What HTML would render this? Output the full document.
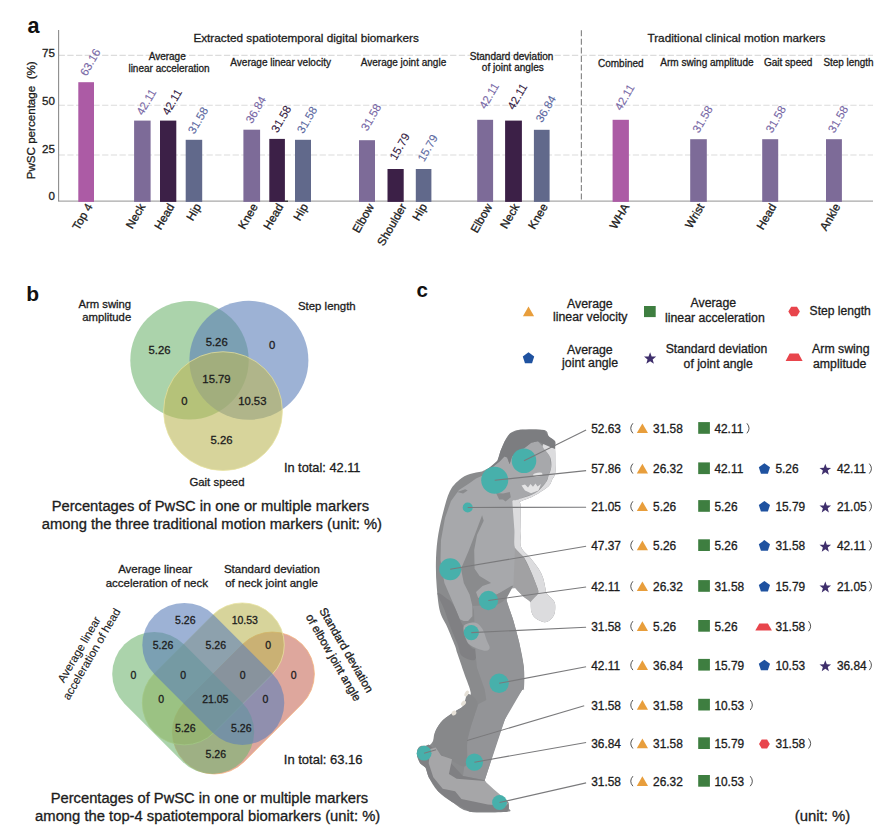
<!DOCTYPE html>
<html><head><meta charset="utf-8"><style>
html,body{margin:0;padding:0;background:#fff;width:895px;height:835px;overflow:hidden}
svg{display:block}
text{font-family:"Liberation Sans",sans-serif}
</style></head><body>
<svg width="895" height="835" viewBox="0 0 895 835">
<rect width="895" height="835" fill="#fff"/>
<path d="M520.0,429.8 C525.7,429.2 539.3,428.9 544.1,430.0 C548.9,431.1 547.1,434.6 548.9,436.5 C550.7,438.4 554.1,439.2 555.1,441.3 C556.1,443.4 555.1,443.8 555.1,448.9 C555.1,454.0 555.9,466.6 555.4,471.8 C554.9,477.0 553.2,477.5 552.0,480.0 C550.8,482.5 551.1,484.0 548.0,486.7 C544.9,489.4 537.8,493.8 533.1,496.3 C528.4,498.8 522.1,500.4 520.0,501.8 C517.9,503.2 520.3,500.3 520.5,505.0 C520.7,509.7 520.9,523.0 521.0,530.0 C521.1,537.0 519.5,542.2 521.0,546.8 C522.5,551.4 527.1,553.9 530.0,557.5 C532.9,561.1 536.1,564.9 538.3,568.3 C540.5,571.7 541.9,574.5 543.1,577.9 C544.3,581.3 544.9,586.1 545.5,588.7 C546.1,591.3 545.5,591.7 546.7,593.5 C547.9,595.3 551.3,597.7 552.7,599.5 C554.1,601.3 554.8,601.9 555.1,604.3 C555.4,606.7 555.3,611.2 554.5,613.8 C553.7,616.4 552.0,618.4 550.3,619.8 C548.6,621.2 546.7,622.4 544.3,622.2 C541.9,622.0 538.0,620.2 535.9,618.6 C533.8,617.0 532.6,615.4 531.7,612.6 C530.8,609.8 531.8,604.5 530.5,601.9 C529.2,599.3 526.1,598.9 524.0,597.1 C521.9,595.3 519.8,593.0 518.0,591.1 C516.2,589.2 515.1,585.7 513.4,585.5 C511.7,585.3 509.1,587.5 508.0,590.0 C506.9,592.5 505.8,595.4 506.6,600.3 C507.4,605.1 510.8,612.0 512.9,619.1 C515.0,626.2 517.4,634.5 519.2,642.6 C521.0,650.7 523.1,659.8 523.9,667.6 C524.7,675.4 524.2,685.8 523.9,689.5 C523.6,693.2 525.3,685.0 522.1,690.0 C518.9,695.0 511.1,704.6 504.9,719.6 C498.7,734.6 488.3,769.7 484.7,780.3 C481.1,790.9 482.2,781.6 483.2,783.4 C484.2,785.2 487.8,788.9 490.9,791.2 C494.0,793.5 498.9,795.6 501.8,797.4 C504.7,799.2 506.9,800.3 508.1,802.1 C509.3,803.9 508.9,806.7 508.8,808.3 C508.7,809.9 513.8,811.1 507.3,811.7 C500.8,812.3 479.1,813.3 469.9,811.7 C460.7,810.1 457.3,805.5 452.0,802.1 C446.7,798.7 441.9,795.4 438.0,791.2 C434.1,787.1 430.8,781.1 428.7,777.2 C426.6,773.3 427.0,770.1 425.6,767.8 C424.2,765.5 421.5,765.3 420.1,763.2 C418.7,761.1 417.4,757.8 417.0,755.4 C416.6,753.0 417.2,750.7 417.8,749.1 C418.4,747.5 419.0,746.6 420.9,746.0 C422.8,745.4 426.9,746.5 429.0,745.5 C431.1,744.5 432.3,742.6 433.5,740.0 C434.7,737.4 434.4,733.3 436.0,730.0 C437.6,726.7 439.8,723.1 443.0,720.0 C446.2,716.9 451.7,713.8 455.0,711.5 C458.3,709.2 460.9,708.4 463.0,706.5 C465.1,704.6 466.2,702.3 467.5,700.0 C468.8,697.7 471.2,697.0 470.7,692.6 C470.2,688.2 466.6,680.4 464.4,673.9 C462.2,667.4 459.0,658.2 457.4,653.5 C455.8,648.8 456.7,650.1 455.0,645.7 C453.3,641.3 449.7,632.6 447.2,626.9 C444.7,621.2 441.7,618.1 440.0,611.6 C438.3,605.1 437.5,595.7 436.8,587.7 C436.1,579.7 435.8,571.7 435.9,563.7 C436.0,555.7 436.4,547.8 437.5,539.8 C438.6,531.8 440.3,523.8 442.3,515.8 C444.3,507.8 446.7,497.9 449.5,491.9 C452.3,485.9 455.7,482.9 459.1,479.9 C462.5,476.9 466.2,475.4 470.0,474.0 C473.8,472.6 478.7,472.5 481.9,471.5 C485.1,470.5 486.4,469.7 489.0,467.9 C491.6,466.1 495.5,463.5 497.4,460.7 C499.3,457.9 499.3,454.3 500.5,451.1 C501.7,447.9 503.0,444.5 504.6,441.6 C506.2,438.7 507.4,435.6 510.0,433.6 C512.6,431.6 514.3,430.4 520.0,429.8Z" fill="#8a8b8d"/>
<polygon points="494.8,465.2 499.6,461.4 504.4,456.6 507.2,457.6 509.6,464.3 512.0,456.6 516.8,452.8 524.5,448.0 531.2,442.7 537.9,441.3 542.7,446.4 550.1,457.0 551.2,467.6 548.5,476.0 545.9,482.5 535.2,493.1 518.3,499.4 515.0,500.5 515.0,505.0 517.0,550.3 516.0,588.0 508.0,589.0 496.9,594.6 478.2,598.0 472.4,606.1 472.4,616.2 468.1,621.0 463.6,621.0 459.5,619.1 453.8,604.7 444.4,583.1 440.5,560.0 441.0,540.0 445.0,518.0 451.0,501.0 459.0,490.0 469.0,483.5 476.0,478.5 485.0,474.5 490.0,470.5" fill="#a7a8ab"/>
<path d="M547.0,443.0 C549.1,443.4 553.7,444.1 555.1,448.9 C556.5,453.7 555.9,466.6 555.4,471.8 C554.9,477.0 553.2,477.5 552.0,480.0 C550.8,482.5 551.1,484.0 548.0,486.7 C544.9,489.4 537.8,493.8 533.1,496.3 C528.4,498.8 522.1,500.4 520.0,501.8 C517.9,503.2 520.3,500.3 520.5,505.0 C520.7,509.7 520.9,523.0 521.0,530.0 C521.1,537.0 519.5,542.2 521.0,546.8 C522.5,551.4 527.1,553.9 530.0,557.5 C532.9,561.1 536.1,564.9 538.3,568.3 C540.5,571.7 541.9,574.5 543.1,577.9 C544.3,581.3 544.9,586.1 545.5,588.7 C546.1,591.3 545.5,591.7 546.7,593.5 C547.9,595.3 551.3,597.7 552.7,599.5 C554.1,601.3 554.8,601.9 555.1,604.3 C555.4,606.7 555.3,611.2 554.5,613.8 C553.7,616.4 552.0,618.4 550.3,619.8 C548.6,621.2 546.7,622.4 544.3,622.2 C541.9,622.0 538.0,620.2 535.9,618.6 C533.8,617.0 532.6,615.4 531.7,612.6 C530.8,609.8 529.6,604.9 530.5,601.9 C531.4,598.9 535.8,596.5 537.1,594.7 C538.4,592.9 538.5,592.9 538.3,591.1 C538.1,589.3 537.1,587.1 535.9,583.9 C534.7,580.7 533.1,576.3 531.1,571.9 C529.1,567.5 526.7,561.5 524.0,557.5 C521.3,553.5 516.6,552.6 515.0,548.0 C513.4,543.4 514.8,537.2 514.4,530.0 C514.0,522.8 512.8,509.9 512.6,505.0 C512.4,500.1 512.0,501.4 513.0,500.5 C514.0,499.6 514.6,500.6 518.3,499.4 C522.0,498.2 530.6,495.9 535.2,493.1 C539.8,490.3 543.7,485.4 545.9,482.5 C548.1,479.6 547.6,478.5 548.5,476.0 C549.4,473.5 550.9,470.8 551.2,467.6 C551.5,464.4 551.5,460.5 550.1,457.0 C548.7,453.5 543.2,448.7 542.7,446.4 C542.2,444.1 544.9,442.6 547.0,443.0Z" fill="#dcdcde"/>
<polygon points="515.0,548.0 524.0,557.5 531.1,571.9 535.9,583.9 538.3,591.1 537.1,594.7 530.5,601.9 524.0,597.1 518.0,591.1 513.4,586.3" fill="#a1a1a3"/>
<polygon points="520.0,429.8 544.1,430.0 548.9,436.5 555.1,441.3 555.1,448.9 551.3,447.5 542.7,443.7 537.9,441.3 531.2,442.7 524.5,448.0 516.8,452.8 512.0,456.6 509.6,464.3 507.2,457.6 504.4,456.6 499.6,461.4 494.8,465.2 489.0,469.0 481.9,471.5 489.0,467.9 497.4,460.7 500.5,451.1 504.6,441.6 510.0,433.6" fill="#7c7d80"/>
<polygon points="496.0,493.1 503.0,493.5 509.8,492.0 510.8,497.3 505.5,501.6 503.0,499.5 499.2,499.4" fill="#8a8b8d"/>
<polygon points="457.1,492.0 465.2,489.2 467.7,490.5 463.1,493.5" fill="#8a8b8d"/>
<polygon points="482.1,515.2 483.7,520.7 477.0,535.0 474.2,550.0 474.6,568.8 479.6,576.0 491.1,583.1 482.5,586.0 476.0,592.0 478.2,598.0 496.9,594.6 511.3,586.0 513.4,585.5 507.0,597.5 502.6,601.8 496.9,604.7 472.4,606.1 469.6,594.6 463.8,583.1 461.0,568.8 468.8,550.4 476.6,530.0" fill="#8a8b8d"/>
<path d="M437.5,593.3 C437.8,591.3 443.4,596.2 446.0,598.0 C448.6,599.8 450.5,600.4 453.0,604.3 C455.5,608.2 459.0,617.4 460.8,621.4 C462.6,625.4 463.1,624.9 464.0,628.0 C464.9,631.1 464.7,636.7 466.0,640.0 C467.3,643.3 470.3,646.3 472.0,648.0 C473.7,649.7 475.6,648.0 476.0,650.0 C476.4,652.0 476.9,659.0 474.6,660.0 C472.3,661.0 464.9,658.7 462.0,656.0 C459.1,653.3 459.5,649.0 457.5,644.0 C455.5,639.0 452.2,631.7 450.0,626.0 C447.8,620.3 446.6,615.5 444.5,610.0 C442.4,604.5 437.2,595.3 437.5,593.3Z" fill="#808083"/>
<polygon points="472.4,606.1 496.9,604.7 502.6,601.8 507.0,597.5 506.6,600.3 512.9,619.1 519.2,642.6 523.9,667.6 523.9,689.5 522.1,690.0 504.9,719.6 484.7,780.3 462.9,776.0 465.3,760.0 467.6,739.8 472.3,721.1 478.5,704.0 486.3,700.0 484.7,689.5 476.9,667.6 475.3,650.0 474.6,626.3 473.9,610.0" fill="#939497"/>
<line x1="424.1" y1="753.2" x2="584.2" y2="705.8" stroke="#7a7a7c" stroke-width="1.1"/>
<path d="M468.0,694.0 C465.6,694.7 465.2,703.1 463.0,706.0 C460.8,708.9 458.3,709.2 455.0,711.5 C451.7,713.8 446.2,716.8 443.0,720.0 C439.8,723.2 437.1,727.7 435.5,731.0 C433.9,734.3 433.7,736.8 433.5,740.0 C433.3,743.2 433.1,747.3 434.4,750.1 C435.7,752.9 438.3,755.2 441.3,757.0 C444.3,758.8 448.2,759.7 452.3,761.1 C456.4,762.5 463.6,769.1 466.1,765.2 C468.6,761.3 466.1,746.0 467.5,737.7 C468.9,729.5 472.8,721.7 474.4,715.7 C476.0,709.7 478.2,705.5 477.1,701.9 C476.0,698.3 470.4,693.3 468.0,694.0Z" fill="#87888a"/>
<ellipse cx="466.6" cy="693.6" rx="1.8" ry="3.2" transform="rotate(30 466.6 693.6)" fill="#e6e1d8"/>
<ellipse cx="463.5" cy="703.3" rx="2" ry="3" transform="rotate(40 463.5 703.3)" fill="#e6e1d8"/>
<ellipse cx="454" cy="713" rx="2.2" ry="2.6" transform="rotate(50 454 713)" fill="#e6e1d8"/>
<path d="M463.8,626.3 C465.2,623.3 472.2,622.2 475.3,622.7 C478.4,623.2 480.6,626.1 482.5,629.1 C484.4,632.1 485.6,637.5 486.8,640.6 C488.0,643.7 489.9,646.1 489.7,647.8 C489.5,649.5 488.3,650.9 485.4,650.7 C482.5,650.5 475.5,648.1 472.4,646.4 C469.3,644.7 468.1,644.0 466.7,640.6 C465.3,637.2 462.4,629.3 463.8,626.3Z" fill="#a7a8ab"/>
<polygon points="484.7,780.3 490.9,791.2 501.8,797.4 508.1,802.1 508.8,808.3 507.3,811.7 469.9,811.7 452.0,802.1 438.0,791.2 428.7,777.2 425.6,767.8 420.1,763.2 417.0,755.4 417.8,749.1 428.7,744.5 448.0,760.0 462.9,776.0" fill="#808083"/>
<polygon points="430.2,749.1 435.7,747.6 441.1,755.4 452.0,759.3 448.9,774.0 456.7,778.7 484.7,781.1 494.0,789.6 503.4,797.4 508.1,803.6 505.7,806.0 487.8,804.4 461.4,799.0 455.1,791.2 442.7,788.8 433.3,777.2 428.7,763.2" fill="#a6a6a8"/>
<polygon points="521.5,485.5 525.0,490.5 531.0,493.2 538.5,490.5 541.0,484.0 537.5,486.5 535.5,483.5 533.0,486.8 530.5,484.0 528.0,487.5 525.0,484.5" fill="#e4e4e5"/>
<ellipse cx="537.8" cy="474.6" rx="4.8" ry="1.9" transform="rotate(-8 537.8 474.6)" fill="#e4e4e5"/>
<circle cx="524" cy="460.7" r="12.3" fill="#47b0ab"/>
<circle cx="494.7" cy="480.3" r="13.5" fill="#47b0ab"/>
<circle cx="467.7" cy="507.5" r="5" fill="#47b0ab"/>
<circle cx="450.2" cy="569.3" r="11" fill="#47b0ab"/>
<circle cx="488.4" cy="600.5" r="9.7" fill="#47b0ab"/>
<circle cx="471.3" cy="632.6" r="7.6" fill="#47b0ab"/>
<circle cx="499.1" cy="683.3" r="9.7" fill="#47b0ab"/>
<circle cx="424.1" cy="753.2" r="7.4" fill="#47b0ab"/>
<circle cx="474.4" cy="762.2" r="8.6" fill="#47b0ab"/>
<circle cx="499.5" cy="802.5" r="7.4" fill="#47b0ab"/>
<line x1="524" y1="460.8" x2="586.1" y2="429.9" stroke="#7a7a7c" stroke-width="1.1"/>
<line x1="494.7" y1="480.3" x2="586.1" y2="470.6" stroke="#7a7a7c" stroke-width="1.1"/>
<line x1="467.7" y1="507.5" x2="586.1" y2="507.2" stroke="#7a7a7c" stroke-width="1.1"/>
<line x1="450.2" y1="569.3" x2="586.1" y2="546.3" stroke="#7a7a7c" stroke-width="1.1"/>
<line x1="488.4" y1="600.5" x2="586.1" y2="587" stroke="#7a7a7c" stroke-width="1.1"/>
<line x1="471.3" y1="632.6" x2="586.1" y2="627.2" stroke="#7a7a7c" stroke-width="1.1"/>
<line x1="499.1" y1="683.3" x2="586.1" y2="666.8" stroke="#7a7a7c" stroke-width="1.1"/>
<line x1="474.4" y1="762.2" x2="586.1" y2="742.5" stroke="#7a7a7c" stroke-width="1.1"/>
<line x1="499.5" y1="802.5" x2="586.1" y2="782.9" stroke="#7a7a7c" stroke-width="1.1"/>
<line x1="424.1" y1="753.2" x2="436" y2="749.8" stroke="#7a7a7c" stroke-width="1.1"/>
<text x="27.6" y="33.2" font-size="21.5" font-weight="bold" fill="#111">a</text>
<line x1="58.6" y1="55.4" x2="873" y2="55.4" stroke="#dcdcdc" stroke-width="1.1" stroke-dasharray="6.3,2.4"/>
<line x1="58.6" y1="105.2" x2="873" y2="105.2" stroke="#dcdcdc" stroke-width="1.1" stroke-dasharray="6.3,2.4"/>
<line x1="58.6" y1="155.0" x2="873" y2="155.0" stroke="#dcdcdc" stroke-width="1.1" stroke-dasharray="6.3,2.4"/>
<line x1="581.4" y1="30.2" x2="581.4" y2="201.2" stroke="#8a8a8a" stroke-width="1.2" stroke-dasharray="6,2.6"/>
<text stroke="#1c1c1c" stroke-width="0.3" x="42.02" y="56.70" font-size="11.6" fill="#1c1c1c">75</text>
<text stroke="#1c1c1c" stroke-width="0.3" x="42.02" y="104.90" font-size="11.6" fill="#1c1c1c">50</text>
<text stroke="#1c1c1c" stroke-width="0.3" x="42.02" y="152.70" font-size="11.6" fill="#1c1c1c">25</text>
<text stroke="#1c1c1c" stroke-width="0.3" x="48.46" y="200.20" font-size="11.6" fill="#1c1c1c">0</text>
<text stroke="#1c1c1c" stroke-width="0.3" transform="translate(35.3,120.3) rotate(-90)" text-anchor="middle" font-size="11.7" fill="#1c1c1c" textLength="118" lengthAdjust="spacingAndGlyphs">PwSC percentage&#160; (%)</text>
<line x1="58.1" y1="201.2" x2="873" y2="201.2" stroke="#a8a8a8" stroke-width="1.3"/>
<rect x="78.3" y="82.2" width="15.70" height="119.70" fill="#ac5ba5"/>
<text stroke="#7868a6" stroke-width="0.12" transform="translate(86.45,76.70) rotate(-60)" x="0" y="0" font-size="11.5" text-anchor="start" fill="#7868a6">63.16</text>
<text stroke="#1c1c1c" stroke-width="0.3" transform="translate(82.15,216.66) rotate(-60)" x="0" y="4.18" font-size="11.6" text-anchor="middle" fill="#1c1c1c">Top 4</text>
<rect x="134.1" y="120.6" width="16.50" height="81.30" fill="#7d6b98"/>
<text stroke="#7868a6" stroke-width="0.12" transform="translate(142.65,116.10) rotate(-60)" x="0" y="0" font-size="11.5" text-anchor="start" fill="#7868a6">42.11</text>
<text stroke="#1c1c1c" stroke-width="0.3" transform="translate(135.35,215.85) rotate(-60)" x="0" y="4.18" font-size="11.6" text-anchor="middle" fill="#1c1c1c">Neck</text>
<rect x="160.0" y="120.6" width="16.30" height="81.30" fill="#3c2047"/>
<text stroke="#35203f" stroke-width="0.12" transform="translate(168.45,116.10) rotate(-60)" x="0" y="0" font-size="11.5" text-anchor="start" fill="#35203f">42.11</text>
<text stroke="#1c1c1c" stroke-width="0.3" transform="translate(164.15,216.38) rotate(-60)" x="0" y="4.18" font-size="11.6" text-anchor="middle" fill="#1c1c1c">Head</text>
<rect x="185.7" y="139.8" width="16.50" height="62.10" fill="#61698b"/>
<text stroke="#5d6aa2" stroke-width="0.12" transform="translate(194.25,134.80) rotate(-60)" x="0" y="0" font-size="11.5" text-anchor="start" fill="#5d6aa2">31.58</text>
<text stroke="#1c1c1c" stroke-width="0.3" transform="translate(193.45,211.91) rotate(-60)" x="0" y="4.18" font-size="11.6" text-anchor="middle" fill="#1c1c1c">Hip</text>
<rect x="243.4" y="129.7" width="16.70" height="72.20" fill="#7d6b98"/>
<text stroke="#7868a6" stroke-width="0.12" transform="translate(252.05,124.20) rotate(-60)" x="0" y="0" font-size="11.5" text-anchor="start" fill="#7868a6">36.84</text>
<text stroke="#1c1c1c" stroke-width="0.3" transform="translate(247.75,216.10) rotate(-60)" x="0" y="4.18" font-size="11.6" text-anchor="middle" fill="#1c1c1c">Knee</text>
<rect x="269.3" y="138.9" width="15.60" height="63.00" fill="#3c2047"/>
<text stroke="#35203f" stroke-width="0.12" transform="translate(277.40,133.40) rotate(-60)" x="0" y="0" font-size="11.5" text-anchor="start" fill="#35203f">31.58</text>
<text stroke="#1c1c1c" stroke-width="0.3" transform="translate(273.10,216.38) rotate(-60)" x="0" y="4.18" font-size="11.6" text-anchor="middle" fill="#1c1c1c">Head</text>
<rect x="295.0" y="139.8" width="16.00" height="62.10" fill="#61698b"/>
<text stroke="#5d6aa2" stroke-width="0.12" transform="translate(303.30,134.30) rotate(-60)" x="0" y="0" font-size="11.5" text-anchor="start" fill="#5d6aa2">31.58</text>
<text stroke="#1c1c1c" stroke-width="0.3" transform="translate(300.50,211.91) rotate(-60)" x="0" y="4.18" font-size="11.6" text-anchor="middle" fill="#1c1c1c">Hip</text>
<rect x="359.0" y="140.2" width="16.00" height="61.70" fill="#7d6b98"/>
<text stroke="#7868a6" stroke-width="0.12" transform="translate(367.30,131.70) rotate(-60)" x="0" y="0" font-size="11.5" text-anchor="start" fill="#7868a6">31.58</text>
<text stroke="#1c1c1c" stroke-width="0.3" transform="translate(363.00,218.06) rotate(-60)" x="0" y="4.18" font-size="11.6" text-anchor="middle" fill="#1c1c1c">Elbow</text>
<rect x="387.5" y="169.0" width="16.20" height="32.90" fill="#3c2047"/>
<text stroke="#35203f" stroke-width="0.12" transform="translate(395.90,161.00) rotate(-60)" x="0" y="0" font-size="11.5" text-anchor="start" fill="#35203f">15.79</text>
<text stroke="#1c1c1c" stroke-width="0.3" transform="translate(391.60,224.49) rotate(-60)" x="0" y="4.18" font-size="11.6" text-anchor="middle" fill="#1c1c1c">Shoulder</text>
<rect x="415.8" y="169.0" width="15.60" height="32.90" fill="#61698b"/>
<text stroke="#5d6aa2" stroke-width="0.12" transform="translate(423.90,162.50) rotate(-60)" x="0" y="0" font-size="11.5" text-anchor="start" fill="#5d6aa2">15.79</text>
<text stroke="#1c1c1c" stroke-width="0.3" transform="translate(419.60,211.91) rotate(-60)" x="0" y="4.18" font-size="11.6" text-anchor="middle" fill="#1c1c1c">Hip</text>
<rect x="477.2" y="119.8" width="15.90" height="82.10" fill="#7d6b98"/>
<text stroke="#7868a6" stroke-width="0.12" transform="translate(485.45,109.80) rotate(-60)" x="0" y="0" font-size="11.5" text-anchor="start" fill="#7868a6">42.11</text>
<text stroke="#1c1c1c" stroke-width="0.3" transform="translate(481.15,218.06) rotate(-60)" x="0" y="4.18" font-size="11.6" text-anchor="middle" fill="#1c1c1c">Elbow</text>
<rect x="505.1" y="120.6" width="16.80" height="81.30" fill="#3c2047"/>
<text stroke="#35203f" stroke-width="0.12" transform="translate(513.80,110.60) rotate(-60)" x="0" y="0" font-size="11.5" text-anchor="start" fill="#35203f">42.11</text>
<text stroke="#1c1c1c" stroke-width="0.3" transform="translate(509.50,215.85) rotate(-60)" x="0" y="4.18" font-size="11.6" text-anchor="middle" fill="#1c1c1c">Neck</text>
<rect x="533.9" y="129.8" width="15.70" height="72.10" fill="#61698b"/>
<text stroke="#5d6aa2" stroke-width="0.12" transform="translate(542.05,123.30) rotate(-60)" x="0" y="0" font-size="11.5" text-anchor="start" fill="#5d6aa2">36.84</text>
<text stroke="#1c1c1c" stroke-width="0.3" transform="translate(537.75,216.10) rotate(-60)" x="0" y="4.18" font-size="11.6" text-anchor="middle" fill="#1c1c1c">Knee</text>
<rect x="612.6" y="119.8" width="16.30" height="82.10" fill="#ac5ba5"/>
<text stroke="#7868a6" stroke-width="0.12" transform="translate(621.05,111.30) rotate(-60)" x="0" y="0" font-size="11.5" text-anchor="start" fill="#7868a6">42.11</text>
<text stroke="#1c1c1c" stroke-width="0.3" transform="translate(619.25,216.10) rotate(-60)" x="0" y="4.18" font-size="11.6" text-anchor="middle" fill="#1c1c1c">WHA</text>
<rect x="690.2" y="139.2" width="16.60" height="62.70" fill="#7d6b98"/>
<text stroke="#7868a6" stroke-width="0.12" transform="translate(698.80,133.70) rotate(-60)" x="0" y="0" font-size="11.5" text-anchor="start" fill="#7868a6">31.58</text>
<text stroke="#1c1c1c" stroke-width="0.3" transform="translate(694.50,215.73) rotate(-60)" x="0" y="4.18" font-size="11.6" text-anchor="middle" fill="#1c1c1c">Wrist</text>
<rect x="762.2" y="139.2" width="16.00" height="62.70" fill="#7d6b98"/>
<text stroke="#7868a6" stroke-width="0.12" transform="translate(772.00,133.70) rotate(-60)" x="0" y="0" font-size="11.5" text-anchor="start" fill="#7868a6">31.58</text>
<text stroke="#1c1c1c" stroke-width="0.3" transform="translate(766.20,216.38) rotate(-60)" x="0" y="4.18" font-size="11.6" text-anchor="middle" fill="#1c1c1c">Head</text>
<rect x="826.0" y="139.2" width="15.90" height="62.70" fill="#7d6b98"/>
<text stroke="#7868a6" stroke-width="0.12" transform="translate(834.25,133.70) rotate(-60)" x="0" y="0" font-size="11.5" text-anchor="start" fill="#7868a6">31.58</text>
<text stroke="#1c1c1c" stroke-width="0.3" transform="translate(829.95,216.93) rotate(-60)" x="0" y="4.18" font-size="11.6" text-anchor="middle" fill="#1c1c1c">Ankle</text>
<line x1="58.6" y1="30" x2="58.6" y2="201.2" stroke="#8c8c8c" stroke-width="1.1"/>
<line x1="284.8" y1="201.2" x2="288" y2="201.2" stroke="#222" stroke-width="1.2"/>
<text stroke="#1c1c1c" stroke-width="0.3" x="193.40" y="42.20" font-size="11.8" textLength="225.41" lengthAdjust="spacingAndGlyphs" fill="#1c1c1c">Extracted spatiotemporal digital biomarkers</text>
<text stroke="#1c1c1c" stroke-width="0.3" x="647.40" y="41.80" font-size="11.8" fill="#1c1c1c">Traditional clinical motion markers</text>
<text stroke="#1c1c1c" stroke-width="0.3" x="148.67" y="59.80" font-size="10" fill="#1c1c1c">Average</text>
<text stroke="#1c1c1c" stroke-width="0.3" x="128.43" y="71.80" font-size="10" fill="#1c1c1c">linear acceleration</text>
<text stroke="#1c1c1c" stroke-width="0.3" x="230.30" y="66.30" font-size="10" textLength="100.68" lengthAdjust="spacingAndGlyphs" fill="#1c1c1c">Average linear velocity</text>
<text stroke="#1c1c1c" stroke-width="0.3" x="360.80" y="66.30" font-size="10" textLength="85.39" lengthAdjust="spacingAndGlyphs" fill="#1c1c1c">Average joint angle</text>
<text stroke="#1c1c1c" stroke-width="0.3" x="469.80" y="59.60" font-size="10" textLength="83.50" lengthAdjust="spacingAndGlyphs" fill="#1c1c1c">Standard deviation</text>
<text stroke="#1c1c1c" stroke-width="0.3" x="481.80" y="71.30" font-size="10" textLength="62.01" lengthAdjust="spacingAndGlyphs" fill="#1c1c1c">of joint angles</text>
<text stroke="#1c1c1c" stroke-width="0.3" x="598.00" y="66.50" font-size="10" fill="#1c1c1c">Combined</text>
<text stroke="#1c1c1c" stroke-width="0.3" x="660.30" y="66.30" font-size="10" textLength="93.32" lengthAdjust="spacingAndGlyphs" fill="#1c1c1c">Arm swing amplitude</text>
<text stroke="#1c1c1c" stroke-width="0.3" x="763.90" y="66.30" font-size="10" textLength="48.51" lengthAdjust="spacingAndGlyphs" fill="#1c1c1c">Gait speed</text>
<text stroke="#1c1c1c" stroke-width="0.3" x="823.50" y="66.30" font-size="10" textLength="50.10" lengthAdjust="spacingAndGlyphs" fill="#1c1c1c">Step length</text>
<text x="26.3" y="300.8" font-size="21" font-weight="bold" fill="#111">b</text>
<g>
<circle cx="189.5" cy="360.2" r="59.2" fill="#73b673" fill-opacity="0.6"/>
<circle cx="248.9" cy="360.3" r="59.5" fill="#5c7fb9" fill-opacity="0.6"/>
<circle cx="223" cy="411.1" r="59.4" fill="#bcb758" fill-opacity="0.6" stroke="#e9e3a0" stroke-width="0.9" stroke-opacity="0.8"/>
</g>
<text stroke="#1c1c1c" stroke-width="0.3" x="148.51" y="354.30" font-size="11.3" fill="#1c1c1c">5.26</text>
<text stroke="#1c1c1c" stroke-width="0.3" x="205.71" y="345.90" font-size="11.3" fill="#1c1c1c">5.26</text>
<text stroke="#1c1c1c" stroke-width="0.3" x="269.06" y="348.60" font-size="11.3" fill="#1c1c1c">0</text>
<text stroke="#1c1c1c" stroke-width="0.3" x="202.35" y="382.60" font-size="11.3" fill="#1c1c1c">15.79</text>
<text stroke="#1c1c1c" stroke-width="0.3" x="181.36" y="404.90" font-size="11.3" fill="#1c1c1c">0</text>
<text stroke="#1c1c1c" stroke-width="0.3" x="238.15" y="404.90" font-size="11.3" fill="#1c1c1c">10.53</text>
<text stroke="#1c1c1c" stroke-width="0.3" x="210.51" y="443.80" font-size="11.3" fill="#1c1c1c">5.26</text>
<text stroke="#1c1c1c" stroke-width="0.3" x="78.43" y="307.70" font-size="11.3" fill="#1c1c1c">Arm swing</text>
<text stroke="#1c1c1c" stroke-width="0.3" x="82.21" y="320.70" font-size="11.3" fill="#1c1c1c">amplitude</text>
<text stroke="#1c1c1c" stroke-width="0.3" x="298.00" y="310.00" font-size="11.4" fill="#1c1c1c">Step length</text>
<text stroke="#1c1c1c" stroke-width="0.3" x="189.40" y="486.30" font-size="11.4" fill="#1c1c1c">Gait speed</text>
<text stroke="#1c1c1c" stroke-width="0.3" x="283.90" y="472.40" font-size="12.8" fill="#1c1c1c">In total: 42.11</text>
<text stroke="#1c1c1c" stroke-width="0.3" x="51.70" y="511.30" font-size="13.8" textLength="317.31" lengthAdjust="spacingAndGlyphs" fill="#1c1c1c">Percentages of PwSC in one or multiple markers</text>
<text stroke="#1c1c1c" stroke-width="0.3" x="41.80" y="529.30" font-size="13.8" textLength="340.22" lengthAdjust="spacingAndGlyphs" fill="#1c1c1c">among the three traditional motion markers (unit: %)</text>
<rect x="-83.00" y="-42.00" width="166.00" height="84.00" rx="42" ry="42" transform="translate(243.4,703) rotate(-45)" fill="#c86d5b" fill-opacity="0.6" stroke="#f5b27a" stroke-width="0.9" stroke-opacity="0.8"/>
<rect x="-83.00" y="-42.00" width="166.00" height="84.00" rx="42" ry="42" transform="translate(213.3,673.9) rotate(-45)" fill="#bcb758" fill-opacity="0.6" stroke="#e9e3a0" stroke-width="0.9" stroke-opacity="0.8"/>
<rect x="-83.00" y="-42.00" width="166.00" height="84.00" rx="42" ry="42" transform="translate(183.2,703) rotate(45)" fill="#73b673" fill-opacity="0.6"/>
<rect x="-83.00" y="-42.00" width="166.00" height="84.00" rx="42" ry="42" transform="translate(213.3,673.9) rotate(45)" fill="#5c7fb9" fill-opacity="0.6"/>
<text stroke="#1c1c1c" stroke-width="0.3" x="175.09" y="624.30" font-size="10.5" fill="#1c1c1c">5.26</text>
<text stroke="#1c1c1c" stroke-width="0.3" x="231.65" y="624.30" font-size="10.5" fill="#1c1c1c">10.53</text>
<text stroke="#1c1c1c" stroke-width="0.3" x="152.79" y="648.90" font-size="10.5" fill="#1c1c1c">5.26</text>
<text stroke="#1c1c1c" stroke-width="0.3" x="205.59" y="648.90" font-size="10.5" fill="#1c1c1c">5.26</text>
<text stroke="#1c1c1c" stroke-width="0.3" x="265.19" y="648.90" font-size="10.5" fill="#1c1c1c">0</text>
<text stroke="#1c1c1c" stroke-width="0.3" x="130.59" y="678.70" font-size="10.5" fill="#1c1c1c">0</text>
<text stroke="#1c1c1c" stroke-width="0.3" x="180.19" y="678.70" font-size="10.5" fill="#1c1c1c">0</text>
<text stroke="#1c1c1c" stroke-width="0.3" x="239.79" y="678.70" font-size="10.5" fill="#1c1c1c">0</text>
<text stroke="#1c1c1c" stroke-width="0.3" x="290.69" y="678.70" font-size="10.5" fill="#1c1c1c">0</text>
<text stroke="#1c1c1c" stroke-width="0.3" x="158.19" y="702.80" font-size="10.5" fill="#1c1c1c">0</text>
<text stroke="#1c1c1c" stroke-width="0.3" x="202.15" y="702.80" font-size="10.5" fill="#1c1c1c">21.05</text>
<text stroke="#1c1c1c" stroke-width="0.3" x="262.59" y="702.80" font-size="10.5" fill="#1c1c1c">0</text>
<text stroke="#1c1c1c" stroke-width="0.3" x="175.09" y="732.10" font-size="10.5" fill="#1c1c1c">5.26</text>
<text stroke="#1c1c1c" stroke-width="0.3" x="231.09" y="732.10" font-size="10.5" fill="#1c1c1c">5.26</text>
<text stroke="#1c1c1c" stroke-width="0.3" x="205.59" y="757.60" font-size="10.5" fill="#1c1c1c">5.26</text>
<text stroke="#1c1c1c" stroke-width="0.3" x="118.13" y="573.40" font-size="11.5" fill="#1c1c1c">Average linear</text>
<text stroke="#1c1c1c" stroke-width="0.3" x="105.72" y="586.80" font-size="11.5" fill="#1c1c1c">acceleration of neck</text>
<text stroke="#1c1c1c" stroke-width="0.3" x="223.94" y="573.40" font-size="11.5" fill="#1c1c1c">Standard deviation</text>
<text stroke="#1c1c1c" stroke-width="0.3" x="225.16" y="586.80" font-size="11.5" fill="#1c1c1c">of neck joint angle</text>
<text stroke="#1c1c1c" stroke-width="0.12" transform="translate(82.50,651.50) rotate(-60)" x="0" y="0" font-size="11.5" text-anchor="middle" fill="#1c1c1c">Average linear</text>
<text stroke="#1c1c1c" stroke-width="0.12" transform="translate(95.00,656.00) rotate(-60)" x="0" y="0" font-size="11.5" text-anchor="middle" fill="#1c1c1c">acceleration of head</text>
<text stroke="#1c1c1c" stroke-width="0.3" transform="translate(343.00,652.00) rotate(60)" x="0" y="0" font-size="11.5" text-anchor="middle" fill="#1c1c1c">Standard deviation</text>
<text stroke="#1c1c1c" stroke-width="0.3" transform="translate(330.00,659.50) rotate(60)" x="0" y="0" font-size="11.5" text-anchor="middle" fill="#1c1c1c">of elbow joint angle</text>
<text stroke="#1c1c1c" stroke-width="0.3" x="283.80" y="763.90" font-size="13.0" fill="#1c1c1c">In total: 63.16</text>
<text stroke="#1c1c1c" stroke-width="0.3" x="50.70" y="802.70" font-size="13.8" textLength="317.51" lengthAdjust="spacingAndGlyphs" fill="#1c1c1c">Percentages of PwSC in one or multiple markers</text>
<text stroke="#1c1c1c" stroke-width="0.3" x="35.10" y="820.50" font-size="13.8" textLength="345.10" lengthAdjust="spacingAndGlyphs" fill="#1c1c1c">among the top-4 spatiotemporal biomarkers (unit: %)</text>
<text x="416.6" y="296.6" font-size="20.5" font-weight="bold" fill="#111">c</text>
<polygon points="528.50,306.60 534.10,316.30 522.90,316.30" fill="#e89e3c"/>
<text stroke="#1c1c1c" stroke-width="0.3" x="567.11" y="308.00" font-size="12.3" fill="#1c1c1c">Average</text>
<text stroke="#1c1c1c" stroke-width="0.3" x="553.03" y="321.10" font-size="12.3" fill="#1c1c1c">linear velocity</text>
<rect x="644.00" y="306.00" width="11.70" height="11.10" fill="#3e7e40"/>
<text stroke="#1c1c1c" stroke-width="0.3" x="690.51" y="307.30" font-size="12.3" fill="#1c1c1c">Average</text>
<text stroke="#1c1c1c" stroke-width="0.3" x="664.99" y="321.90" font-size="12.3" fill="#1c1c1c">linear acceleration</text>
<polygon points="799.90,311.50 797.00,316.27 791.20,316.27 788.30,311.50 791.20,306.73 797.00,306.73" fill="#e8454c"/>
<text stroke="#1c1c1c" stroke-width="0.3" x="809.60" y="314.90" font-size="12.1" fill="#1c1c1c">Step length</text>
<polygon points="528.50,352.30 534.21,356.45 532.03,363.15 524.97,363.15 522.79,356.45" fill="#1f52a0"/>
<text stroke="#1c1c1c" stroke-width="0.3" x="567.11" y="353.80" font-size="12.3" fill="#1c1c1c">Average</text>
<text stroke="#1c1c1c" stroke-width="0.3" x="562.11" y="367.20" font-size="12.3" fill="#1c1c1c">joint angle</text>
<polygon points="650.10,352.20 651.68,356.43 656.19,356.62 652.66,359.43 653.86,363.78 650.10,361.29 646.34,363.78 647.54,359.43 644.01,356.62 648.52,356.43" fill="#3f2f6c"/>
<text stroke="#1c1c1c" stroke-width="0.3" x="665.73" y="353.40" font-size="12.2" fill="#1c1c1c">Standard deviation</text>
<text stroke="#1c1c1c" stroke-width="0.3" x="683.61" y="368.20" font-size="12.2" fill="#1c1c1c">of joint angle</text>
<polygon points="789.60,353.40 798.60,353.40 802.60,361.00 785.60,361.00" fill="#e8454c"/>
<text stroke="#1c1c1c" stroke-width="0.3" x="812.10" y="353.40" font-size="12.3" fill="#1c1c1c">Arm swing</text>
<text stroke="#1c1c1c" stroke-width="0.3" x="813.00" y="368.20" font-size="12.3" fill="#1c1c1c">amplitude</text>
<text stroke="#1c1c1c" stroke-width="0.3" x="794.70" y="821.00" font-size="14.9" fill="#1c1c1c">(unit: %)</text>
<text stroke="#1c1c1c" stroke-width="0.3" x="591.20" y="433.10" font-size="11.9" fill="#1c1c1c">52.63</text>
<path d="M632.90,423.30 Q628.60,428.30 632.90,433.30" fill="none" stroke="#333" stroke-width="0.85"/>
<polygon points="642.40,423.40 648.00,433.10 636.80,433.10" fill="#e89e3c"/>
<text stroke="#1c1c1c" stroke-width="0.3" x="653.10" y="433.10" font-size="11.9" fill="#1c1c1c">31.58</text>
<rect x="698.20" y="422.10" width="11.70" height="11.70" fill="#3e7e40"/>
<text stroke="#1c1c1c" stroke-width="0.3" x="714.40" y="433.10" font-size="11.9" fill="#1c1c1c">42.11</text>
<path d="M746.90,423.30 Q751.20,428.30 746.90,433.30" fill="none" stroke="#333" stroke-width="0.85"/>
<text stroke="#1c1c1c" stroke-width="0.3" x="591.20" y="473.40" font-size="11.9" fill="#1c1c1c">57.86</text>
<path d="M632.90,463.60 Q628.60,468.60 632.90,473.60" fill="none" stroke="#333" stroke-width="0.85"/>
<polygon points="642.40,463.70 648.00,473.40 636.80,473.40" fill="#e89e3c"/>
<text stroke="#1c1c1c" stroke-width="0.3" x="653.10" y="473.40" font-size="11.9" fill="#1c1c1c">26.32</text>
<rect x="698.20" y="462.40" width="11.70" height="11.70" fill="#3e7e40"/>
<text stroke="#1c1c1c" stroke-width="0.3" x="714.40" y="473.40" font-size="11.9" fill="#1c1c1c">42.11</text>
<polygon points="764.40,463.20 770.01,467.28 767.87,473.87 760.93,473.87 758.79,467.28" fill="#1f52a0"/>
<text stroke="#1c1c1c" stroke-width="0.3" x="775.40" y="473.40" font-size="11.9" fill="#1c1c1c">5.26</text>
<polygon points="825.30,463.70 826.81,467.73 831.10,467.91 827.74,470.59 828.89,474.74 825.30,472.36 821.71,474.74 822.86,470.59 819.50,467.91 823.79,467.73" fill="#3f2f6c"/>
<text stroke="#1c1c1c" stroke-width="0.3" x="836.90" y="473.40" font-size="11.9" fill="#1c1c1c">42.11</text>
<path d="M869.30,463.60 Q873.60,468.60 869.30,473.60" fill="none" stroke="#333" stroke-width="0.85"/>
<text stroke="#1c1c1c" stroke-width="0.3" x="591.20" y="511.10" font-size="11.9" fill="#1c1c1c">21.05</text>
<path d="M632.90,501.30 Q628.60,506.30 632.90,511.30" fill="none" stroke="#333" stroke-width="0.85"/>
<polygon points="642.40,501.40 648.00,511.10 636.80,511.10" fill="#e89e3c"/>
<text stroke="#1c1c1c" stroke-width="0.3" x="653.10" y="511.10" font-size="11.9" fill="#1c1c1c">5.26</text>
<rect x="698.20" y="500.10" width="11.70" height="11.70" fill="#3e7e40"/>
<text stroke="#1c1c1c" stroke-width="0.3" x="714.40" y="511.10" font-size="11.9" fill="#1c1c1c">5.26</text>
<polygon points="764.40,500.90 770.01,504.98 767.87,511.57 760.93,511.57 758.79,504.98" fill="#1f52a0"/>
<text stroke="#1c1c1c" stroke-width="0.3" x="775.40" y="511.10" font-size="11.9" fill="#1c1c1c">15.79</text>
<polygon points="825.30,501.40 826.81,505.43 831.10,505.61 827.74,508.29 828.89,512.44 825.30,510.06 821.71,512.44 822.86,508.29 819.50,505.61 823.79,505.43" fill="#3f2f6c"/>
<text stroke="#1c1c1c" stroke-width="0.3" x="836.90" y="511.10" font-size="11.9" fill="#1c1c1c">21.05</text>
<path d="M869.30,501.30 Q873.60,506.30 869.30,511.30" fill="none" stroke="#333" stroke-width="0.85"/>
<text stroke="#1c1c1c" stroke-width="0.3" x="591.20" y="550.30" font-size="11.9" fill="#1c1c1c">47.37</text>
<path d="M632.90,540.50 Q628.60,545.50 632.90,550.50" fill="none" stroke="#333" stroke-width="0.85"/>
<polygon points="642.40,540.60 648.00,550.30 636.80,550.30" fill="#e89e3c"/>
<text stroke="#1c1c1c" stroke-width="0.3" x="653.10" y="550.30" font-size="11.9" fill="#1c1c1c">5.26</text>
<rect x="698.20" y="539.30" width="11.70" height="11.70" fill="#3e7e40"/>
<text stroke="#1c1c1c" stroke-width="0.3" x="714.40" y="550.30" font-size="11.9" fill="#1c1c1c">5.26</text>
<polygon points="764.40,540.10 770.01,544.18 767.87,550.77 760.93,550.77 758.79,544.18" fill="#1f52a0"/>
<text stroke="#1c1c1c" stroke-width="0.3" x="775.40" y="550.30" font-size="11.9" fill="#1c1c1c">31.58</text>
<polygon points="825.30,540.60 826.81,544.63 831.10,544.81 827.74,547.49 828.89,551.64 825.30,549.26 821.71,551.64 822.86,547.49 819.50,544.81 823.79,544.63" fill="#3f2f6c"/>
<text stroke="#1c1c1c" stroke-width="0.3" x="836.90" y="550.30" font-size="11.9" fill="#1c1c1c">42.11</text>
<path d="M869.30,540.50 Q873.60,545.50 869.30,550.50" fill="none" stroke="#333" stroke-width="0.85"/>
<text stroke="#1c1c1c" stroke-width="0.3" x="591.20" y="591.10" font-size="11.9" fill="#1c1c1c">42.11</text>
<path d="M632.90,581.30 Q628.60,586.30 632.90,591.30" fill="none" stroke="#333" stroke-width="0.85"/>
<polygon points="642.40,581.40 648.00,591.10 636.80,591.10" fill="#e89e3c"/>
<text stroke="#1c1c1c" stroke-width="0.3" x="653.10" y="591.10" font-size="11.9" fill="#1c1c1c">26.32</text>
<rect x="698.20" y="580.10" width="11.70" height="11.70" fill="#3e7e40"/>
<text stroke="#1c1c1c" stroke-width="0.3" x="714.40" y="591.10" font-size="11.9" fill="#1c1c1c">31.58</text>
<polygon points="764.40,580.90 770.01,584.98 767.87,591.57 760.93,591.57 758.79,584.98" fill="#1f52a0"/>
<text stroke="#1c1c1c" stroke-width="0.3" x="775.40" y="591.10" font-size="11.9" fill="#1c1c1c">15.79</text>
<polygon points="825.30,581.40 826.81,585.43 831.10,585.61 827.74,588.29 828.89,592.44 825.30,590.06 821.71,592.44 822.86,588.29 819.50,585.61 823.79,585.43" fill="#3f2f6c"/>
<text stroke="#1c1c1c" stroke-width="0.3" x="836.90" y="591.10" font-size="11.9" fill="#1c1c1c">21.05</text>
<path d="M869.30,581.30 Q873.60,586.30 869.30,591.30" fill="none" stroke="#333" stroke-width="0.85"/>
<text stroke="#1c1c1c" stroke-width="0.3" x="591.20" y="631.00" font-size="11.9" fill="#1c1c1c">31.58</text>
<path d="M632.90,621.20 Q628.60,626.20 632.90,631.20" fill="none" stroke="#333" stroke-width="0.85"/>
<polygon points="642.40,621.30 648.00,631.00 636.80,631.00" fill="#e89e3c"/>
<text stroke="#1c1c1c" stroke-width="0.3" x="653.10" y="631.00" font-size="11.9" fill="#1c1c1c">5.26</text>
<rect x="698.20" y="620.00" width="11.70" height="11.70" fill="#3e7e40"/>
<text stroke="#1c1c1c" stroke-width="0.3" x="714.40" y="631.00" font-size="11.9" fill="#1c1c1c">5.26</text>
<polygon points="759.30,623.40 767.90,623.40 771.90,630.60 755.30,630.60" fill="#e8454c"/>
<text stroke="#1c1c1c" stroke-width="0.3" x="775.40" y="631.00" font-size="11.9" fill="#1c1c1c">31.58</text>
<path d="M808.50,621.20 Q812.80,626.20 808.50,631.20" fill="none" stroke="#333" stroke-width="0.85"/>
<text stroke="#1c1c1c" stroke-width="0.3" x="591.20" y="669.90" font-size="11.9" fill="#1c1c1c">42.11</text>
<path d="M632.90,660.10 Q628.60,665.10 632.90,670.10" fill="none" stroke="#333" stroke-width="0.85"/>
<polygon points="642.40,660.20 648.00,669.90 636.80,669.90" fill="#e89e3c"/>
<text stroke="#1c1c1c" stroke-width="0.3" x="653.10" y="669.90" font-size="11.9" fill="#1c1c1c">36.84</text>
<rect x="698.20" y="658.90" width="11.70" height="11.70" fill="#3e7e40"/>
<text stroke="#1c1c1c" stroke-width="0.3" x="714.40" y="669.90" font-size="11.9" fill="#1c1c1c">15.79</text>
<polygon points="764.40,659.70 770.01,663.78 767.87,670.37 760.93,670.37 758.79,663.78" fill="#1f52a0"/>
<text stroke="#1c1c1c" stroke-width="0.3" x="775.40" y="669.90" font-size="11.9" fill="#1c1c1c">10.53</text>
<polygon points="825.30,660.20 826.81,664.23 831.10,664.41 827.74,667.09 828.89,671.24 825.30,668.86 821.71,671.24 822.86,667.09 819.50,664.41 823.79,664.23" fill="#3f2f6c"/>
<text stroke="#1c1c1c" stroke-width="0.3" x="836.90" y="669.90" font-size="11.9" fill="#1c1c1c">36.84</text>
<path d="M869.30,660.10 Q873.60,665.10 869.30,670.10" fill="none" stroke="#333" stroke-width="0.85"/>
<text stroke="#1c1c1c" stroke-width="0.3" x="591.20" y="709.80" font-size="11.9" fill="#1c1c1c">31.58</text>
<path d="M632.90,700.00 Q628.60,705.00 632.90,710.00" fill="none" stroke="#333" stroke-width="0.85"/>
<polygon points="642.40,700.10 648.00,709.80 636.80,709.80" fill="#e89e3c"/>
<text stroke="#1c1c1c" stroke-width="0.3" x="653.10" y="709.80" font-size="11.9" fill="#1c1c1c">31.58</text>
<rect x="698.20" y="698.80" width="11.70" height="11.70" fill="#3e7e40"/>
<text stroke="#1c1c1c" stroke-width="0.3" x="714.40" y="709.80" font-size="11.9" fill="#1c1c1c">10.53</text>
<path d="M750.20,700.00 Q754.50,705.00 750.20,710.00" fill="none" stroke="#333" stroke-width="0.85"/>
<text stroke="#1c1c1c" stroke-width="0.3" x="591.20" y="748.30" font-size="11.9" fill="#1c1c1c">36.84</text>
<path d="M632.90,738.50 Q628.60,743.50 632.90,748.50" fill="none" stroke="#333" stroke-width="0.85"/>
<polygon points="642.40,738.60 648.00,748.30 636.80,748.30" fill="#e89e3c"/>
<text stroke="#1c1c1c" stroke-width="0.3" x="653.10" y="748.30" font-size="11.9" fill="#1c1c1c">31.58</text>
<rect x="698.20" y="737.30" width="11.70" height="11.70" fill="#3e7e40"/>
<text stroke="#1c1c1c" stroke-width="0.3" x="714.40" y="748.30" font-size="11.9" fill="#1c1c1c">15.79</text>
<polygon points="769.80,744.00 767.10,748.44 761.70,748.44 759.00,744.00 761.70,739.56 767.10,739.56" fill="#e8454c"/>
<text stroke="#1c1c1c" stroke-width="0.3" x="775.40" y="748.30" font-size="11.9" fill="#1c1c1c">31.58</text>
<path d="M808.50,738.50 Q812.80,743.50 808.50,748.50" fill="none" stroke="#333" stroke-width="0.85"/>
<text stroke="#1c1c1c" stroke-width="0.3" x="591.20" y="786.00" font-size="11.9" fill="#1c1c1c">31.58</text>
<path d="M632.90,776.20 Q628.60,781.20 632.90,786.20" fill="none" stroke="#333" stroke-width="0.85"/>
<polygon points="642.40,776.30 648.00,786.00 636.80,786.00" fill="#e89e3c"/>
<text stroke="#1c1c1c" stroke-width="0.3" x="653.10" y="786.00" font-size="11.9" fill="#1c1c1c">26.32</text>
<rect x="698.20" y="775.00" width="11.70" height="11.70" fill="#3e7e40"/>
<text stroke="#1c1c1c" stroke-width="0.3" x="714.40" y="786.00" font-size="11.9" fill="#1c1c1c">10.53</text>
<path d="M750.20,776.20 Q754.50,781.20 750.20,786.20" fill="none" stroke="#333" stroke-width="0.85"/>
</svg></body></html>
